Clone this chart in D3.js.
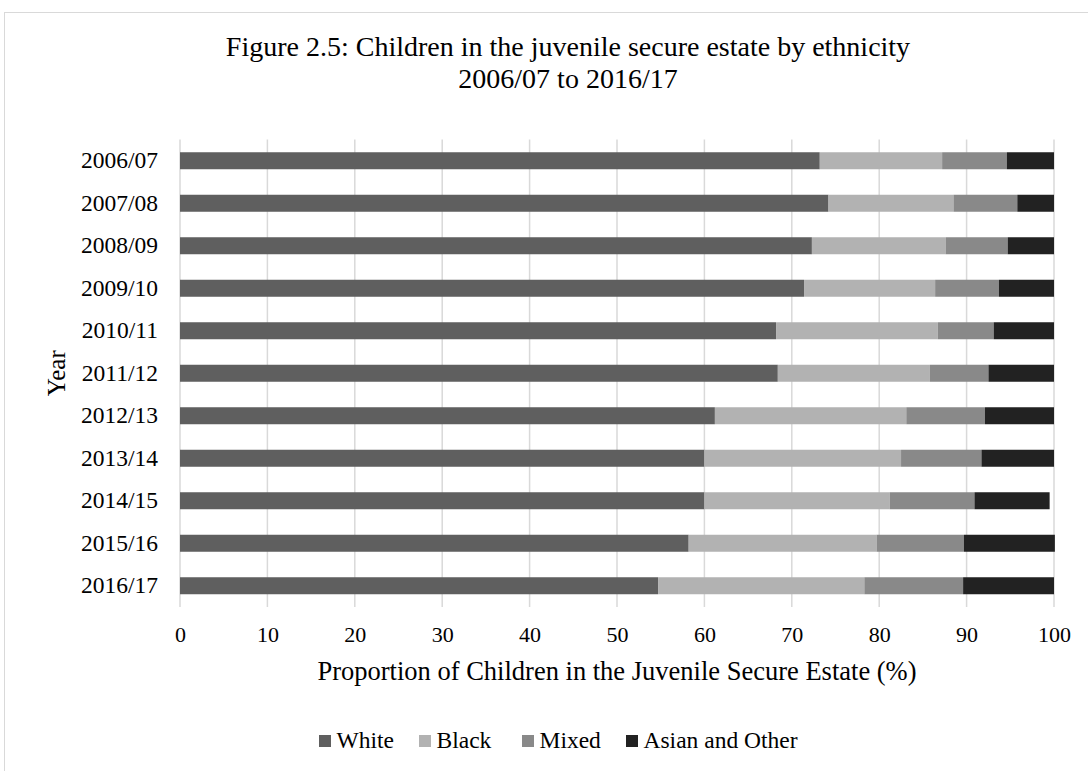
<!DOCTYPE html>
<html>
<head>
<meta charset="utf-8">
<script src="https://cdn.jsdelivr.net/npm/d3@7"></script>
<style>
  html, body { margin: 0; padding: 0; background: #fff; }
  svg { display: block; font-family: "Liberation Serif", "Times New Roman", serif; }
</style>
</head>
<body>
<svg id="chart" width="1088" height="771"></svg>
<script>
const years = ["2006/07","2007/08","2008/09","2009/10","2010/11","2011/12","2012/13","2013/14","2014/15","2015/16","2016/17"];
const seriesNames = ["White","Black","Mixed","Asian and Other"];
const white = [73.2, 74.2, 72.3, 71.4, 68.2, 68.4, 61.2, 60.0, 60.0, 58.2, 54.7];
const black = [14.0, 14.3, 15.3, 15.0, 18.5, 17.4, 21.9, 22.5, 21.2, 21.5, 23.6];
const mixed = [7.4, 7.3, 7.1, 7.3, 6.4, 6.7, 9.0, 9.2, 9.7, 10.0, 11.3];
const asianOther = [5.4, 4.2, 5.3, 6.3, 6.9, 7.5, 7.9, 8.3, 8.6, 10.4, 10.4];
const xTicks = [0,10,20,30,40,50,60,70,80,90,100];
const colors = ["#5f5f5f", "#b2b2b2", "#898989", "#222222"];

const svg = d3.select("#chart");

// outer border
svg.append("rect").attr("x", 4.5).attr("y", 12.5).attr("width", 1200).attr("height", 900)
  .attr("fill", "none").attr("stroke", "#d9d9d9").attr("stroke-width", 1);

const m = {left: 180, right: 1054, top: 139.5, bottom: 607};
const x = d3.scaleLinear().domain([0, 100]).range([m.left, m.right]);
const y = d3.scaleBand().domain(years).range([m.top, m.bottom]).paddingInner(0.6).paddingOuter(0.3);

// title
const title = svg.append("text").attr("text-anchor", "middle").attr("font-size", 28).attr("fill", "#000");
title.append("tspan").attr("x", 568).attr("y", 56).text("Figure 2.5: Children in the juvenile secure estate by ethnicity");
title.append("tspan").attr("x", 568).attr("y", 88).text("2006/07 to 2016/17");

// gridlines
svg.append("g").selectAll("line").data(xTicks).join("line")
  .attr("x1", d => x(d)).attr("x2", d => x(d))
  .attr("y1", m.top).attr("y2", m.bottom)
  .attr("stroke", "#d9d9d9").attr("stroke-width", 1.5);

// stacked data
const rows = years.map((yr, i) => ({year: yr, White: white[i], Black: black[i], Mixed: mixed[i], "Asian and Other": asianOther[i]}));
const stack = d3.stack().keys(seriesNames)(rows);

svg.append("g").selectAll("g").data(stack).join("g")
  .attr("fill", (d, i) => colors[i])
  .selectAll("rect").data(d => d).join("rect")
  .attr("x", d => x(d[0]))
  .attr("width", d => x(d[1]) - x(d[0]))
  .attr("y", d => y(d.data.year))
  .attr("height", y.bandwidth());

// y axis labels
const yAxis = d3.axisLeft(y).tickSize(0).tickPadding(22);
const yg = svg.append("g").attr("transform", `translate(${m.left},0)`).call(yAxis);
yg.select(".domain").remove();
yg.selectAll("text").attr("font-size", 23.5).attr("font-family", "Liberation Serif").attr("fill", "#000");

// x axis labels
const xAxis = d3.axisBottom(x).tickValues(xTicks).tickSize(0).tickPadding(19);
const xg = svg.append("g").attr("transform", `translate(0,${m.bottom})`).call(xAxis);
xg.select(".domain").remove();
xg.selectAll("text").attr("font-size", 22).attr("font-family", "Liberation Serif").attr("fill", "#000");

// axis titles
svg.append("text").attr("x", (m.left + m.right) / 2).attr("y", 680).attr("text-anchor", "middle")
  .attr("font-size", 26.5).attr("fill", "#000").text("Proportion of Children in the Juvenile Secure Estate (%)");
svg.append("text").attr("transform", `translate(65,${(m.top + m.bottom) / 2}) rotate(-90)`)
  .attr("text-anchor", "middle").attr("font-size", 25).attr("fill", "#000").text("Year");

// legend
const legendX = [319, 419, 522, 626];
const lg = svg.append("g").selectAll("g").data(seriesNames).join("g")
  .attr("transform", (d, i) => `translate(${legendX[i]},735)`);
lg.append("rect").attr("width", 12).attr("height", 12).attr("fill", (d, i) => colors[i]);
lg.append("text").attr("x", 17.5).attr("y", 12.5).attr("font-size", 23.5).attr("fill", "#000").text(d => d);
</script>
</body>
</html>
